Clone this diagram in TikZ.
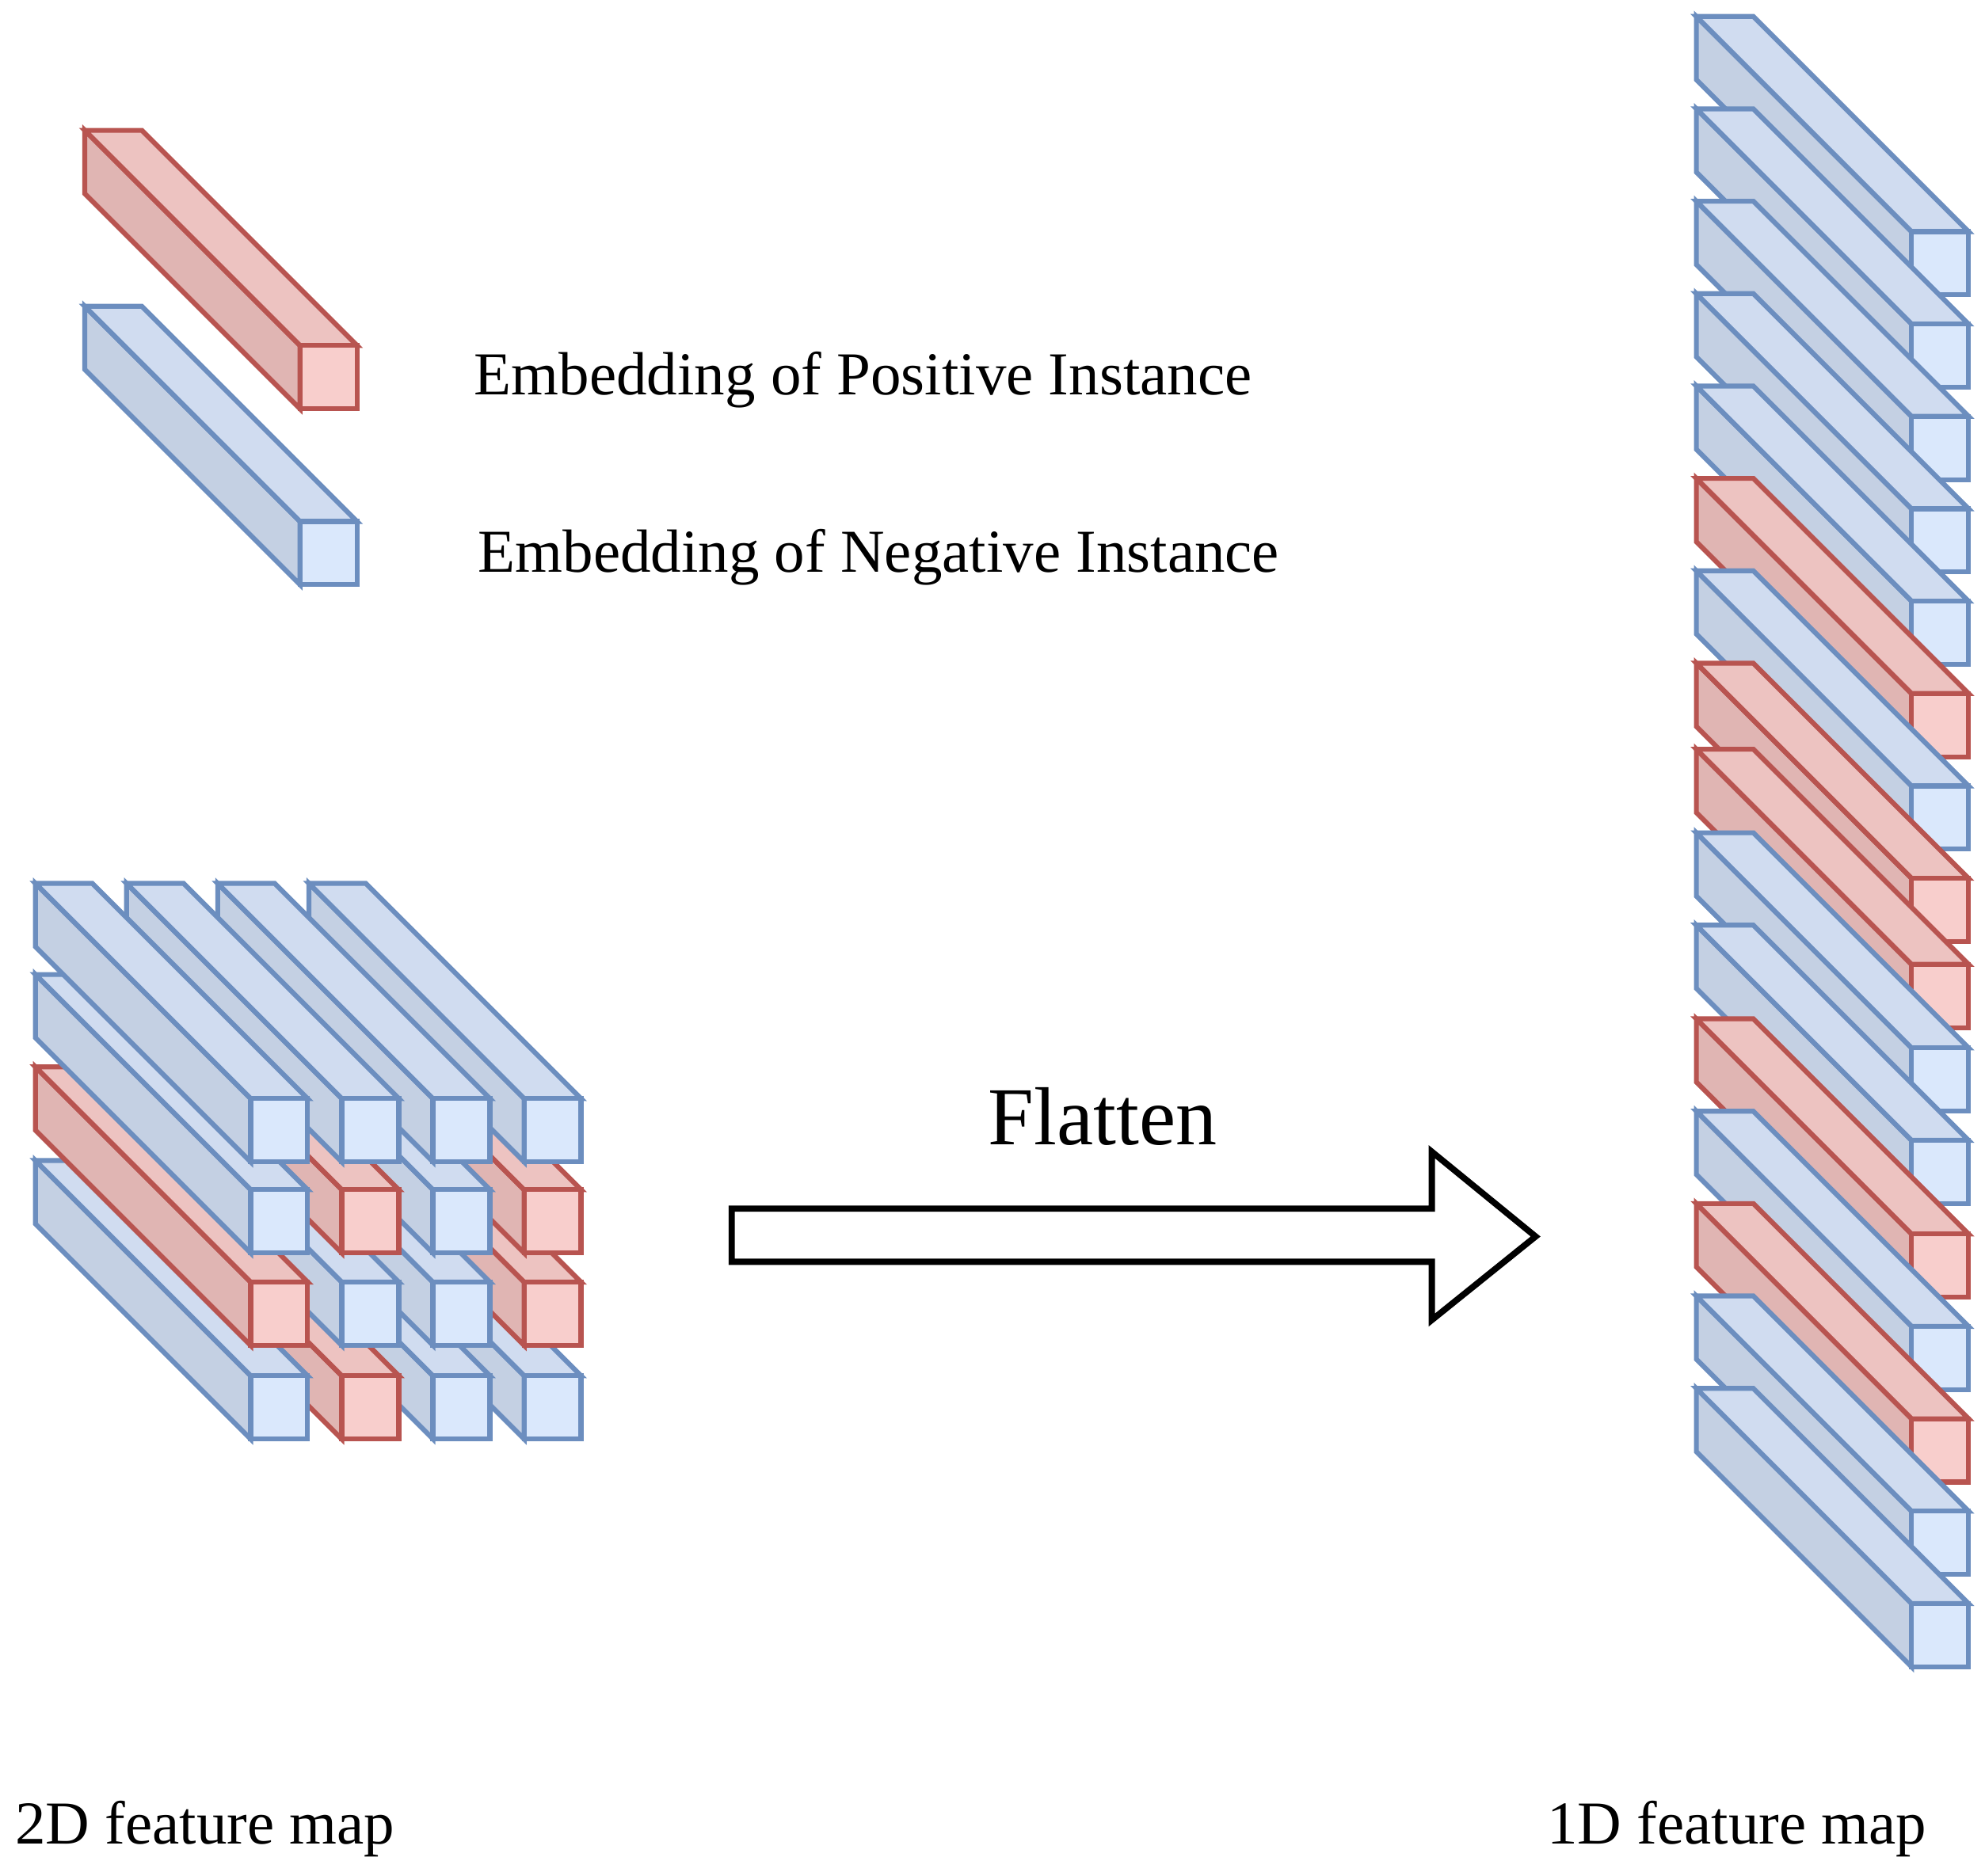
\documentclass[tikz,border=0pt]{standalone}
\usepackage{fontspec}
\setmainfont{Liberation Serif}
\definecolor{negline}{HTML}{6C8EBF}
\definecolor{negfront}{HTML}{DAE8FC}
\definecolor{negtop}{HTML}{D0DCF0}
\definecolor{negside}{HTML}{C4D0E3}
\definecolor{posline}{HTML}{B85450}
\definecolor{posfront}{HTML}{F8CECC}
\definecolor{postop}{HTML}{EDC3C1}
\definecolor{posside}{HTML}{E0B5B3}
% one embedding bar: front corner x, y and kind (neg/pos)
\newcommand{\featbar}[3]{%
  \filldraw[draw=#3line,fill=#3side,bar] (#1,#2) -- (#1,#2+50) -- (#1-170,#2-120) -- (#1-170,#2-170) -- cycle;
  \filldraw[draw=#3line,fill=#3top,bar] (#1,#2) -- (#1+45,#2) -- (#1-125,#2-170) -- (#1-170,#2-170) -- cycle;
  \filldraw[draw=#3line,fill=#3front,bar] (#1,#2) rectangle (#1+45,#2+50);}

\begin{document}
\begin{tikzpicture}
  [x=0.01cm,y=-0.01cm,
  bar/.style={line width=1.1pt,line join=miter},
  label/.style={font=\fontsize{13.7}{16}\selectfont,anchor=west,inner sep=0pt},
  caption/.style={font=\fontsize{13.7}{16}\selectfont,inner sep=0pt}]
\useasboundingbox (0,0) rectangle (1568,1482);

% legend
\featbar{237}{273}{pos}
\featbar{237}{412}{neg}
\node[label] (pos-label) at (374,300) {Embedding of Positive Instance};
\node[label] (neg-label) at (377,440) {Embedding of Negative Instance};

% 2D feature map, bottom row first, right column first
\foreach \col/\kind in {3/neg,2/neg,1/pos,0/neg}
  {\featbar{198+72*\col}{1087}{\kind}}
\foreach \col/\kind in {3/pos,2/neg,1/neg,0/pos}
  {\featbar{198+72*\col}{1013}{\kind}}
\foreach \col/\kind in {3/pos,2/neg,1/pos,0/neg}
  {\featbar{198+72*\col}{940}{\kind}}
\foreach \col/\kind in {3/neg,2/neg,1/neg,0/neg}
  {\featbar{198+72*\col}{868}{\kind}}

% 1D feature map
\foreach \y/\kind in {183/neg,256/neg,329/neg,402/neg,475/neg,548/pos,621/neg,694/pos,
    762/pos,828/neg,901/neg,975/pos,1048/neg,1121/pos,1194/neg,1267/neg}
  {\featbar{1510}{\y}{\kind}}

% flatten arrow
\draw[line width=1.4pt,fill=white] (578,955) -- (1131,955) -- (1131,910) -- (1213,977)
  -- (1131,1043) -- (1131,997) -- (578,997) -- cycle;
\node[font=\fontsize{18.5}{22}\selectfont] (flatten) at (871,882) {Flatten};

\node[caption] (map2d) at (162,1445) {2D feature map};
\node[caption] (map1d) at (1372,1445) {1D feature map};
\end{tikzpicture}
\end{document}
